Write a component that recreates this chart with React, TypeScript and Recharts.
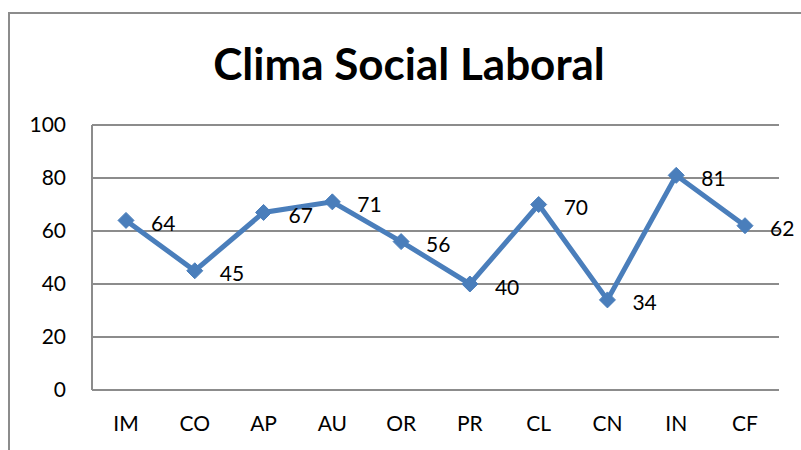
import { LineChart, Line, XAxis, YAxis, CartesianGrid, LabelList } from 'recharts'

const categories = ['IM', 'CO', 'AP', 'AU', 'OR', 'PR', 'CL', 'CN', 'IN', 'CF']
const scores = [64, 45, 67, 71, 56, 40, 70, 34, 81, 62]
const yTicks = [0, 20, 40, 60, 80, 100]

const data = categories.map((name, i) => ({ name, value: scores[i] }))

const BLUE = '#4a7ebb'
const GRID = '#8c8c8c'
const FONT = 'Lato, "Open Sans", sans-serif'

const Diamond = (props: any) => {
  const { cx, cy } = props
  if (cx == null || cy == null) return null
  const r = 8
  return (
    <path
      d={`M${cx},${cy - r} L${cx + r},${cy} L${cx},${cy + r} L${cx - r},${cy} Z`}
      fill={BLUE}
      stroke={BLUE}
    />
  )
}

const ValueLabel = (props: any) => {
  const { x, y, value } = props
  return (
    <text x={x + 25} y={y + 2} dominantBaseline="central" fontSize={21} fill="#000" fontFamily={FONT}>
      {value}
    </text>
  )
}

export default function App() {
  return (
    <div style={{ position: 'absolute', left: 0, top: 0, width: 801, height: 450, background: '#fff', overflow: 'hidden' }}>
      <div
        style={{
          position: 'absolute',
          left: 8,
          top: 12,
          width: 900,
          height: 500,
          border: '2px solid #8c8c8c',
          boxSizing: 'border-box',
        }}
      />
      <div
        style={{
          position: 'absolute',
          left: 0,
          width: 818,
          top: 36,
          textAlign: 'center',
          fontFamily: FONT,
          fontWeight: 'bold',
          fontSize: 44,
          lineHeight: '54px',
          color: '#000',
        }}
      >
        Clima Social Laboral
      </div>
      <div style={{ position: 'absolute', left: 0, top: 0 }}>
        <LineChart width={801} height={450} data={data} margin={{ top: 125, right: 22, bottom: 0, left: 0 }}>
          <CartesianGrid vertical={false} stroke={GRID} strokeWidth={2} />
          <XAxis
            dataKey="name"
            height={60}
            padding={{ left: 34, right: 34 }}
            axisLine={{ stroke: GRID, strokeWidth: 2 }}
            tickLine={false}
            tickSize={0}
            tickMargin={26}
            tick={{ fontSize: 21, fill: '#000', fontFamily: FONT }}
          />
          <YAxis
            domain={[0, 100]}
            ticks={yTicks}
            width={92}
            axisLine={{ stroke: GRID, strokeWidth: 2 }}
            tickLine={false}
            tickSize={0}
            tickMargin={26}
            tick={{ fontSize: 21, fill: '#000', fontFamily: FONT }}
          />
          <Line
            type="linear"
            dataKey="value"
            stroke={BLUE}
            strokeWidth={5}
            dot={<Diamond />}
            activeDot={false}
            isAnimationActive={false}
          >
            <LabelList dataKey="value" content={<ValueLabel />} />
          </Line>
        </LineChart>
      </div>
    </div>
  )
}
